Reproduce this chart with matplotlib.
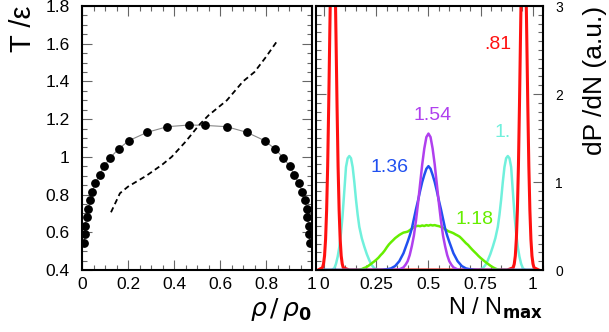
import matplotlib
matplotlib.use('Agg')
import matplotlib.pyplot as plt
from matplotlib.ticker import MultipleLocator

plt.rcParams['font.family'] = ['Liberation Sans', 'DejaVu Sans']
plt.rcParams['mathtext.fontset'] = 'dejavusans'

# left panel: coexistence curve (dots) and dashed line
rho_dots = [0.009, 0.012, 0.014, 0.020, 0.028, 0.035, 0.045, 0.057, 0.077, 0.096, 0.123,
            0.159, 0.204, 0.283, 0.371, 0.467, 0.533, 0.629, 0.717, 0.794, 0.839, 0.875,
            0.903, 0.923, 0.942, 0.958, 0.970, 0.977, 0.980, 0.986, 0.988, 0.991]
T_dots = [0.545, 0.589, 0.633, 0.679, 0.725, 0.770, 0.815, 0.860, 0.905, 0.950, 0.996,
          1.042, 1.086, 1.130, 1.160, 1.169, 1.167, 1.160, 1.130, 1.086, 1.042, 0.996,
          0.950, 0.905, 0.860, 0.815, 0.770, 0.725, 0.679, 0.633, 0.589, 0.545]
rho_dash = [0.126, 0.165, 0.20, 0.28, 0.35, 0.39, 0.45, 0.51, 0.55, 0.63, 0.70, 0.75, 0.80, 0.846]
T_dash = [0.706, 0.807, 0.842, 0.90, 0.96, 1.00, 1.08, 1.17, 1.22, 1.30, 1.40, 1.45, 1.53, 1.61]

# right panel: distributions dP/dN vs N/Nmax
x_red = [-0.03, -0.009, -0.004, 0.001, 0.006, 0.011, 0.016, 0.021, 0.026, 0.031, 0.036, 0.041,
         0.046, 0.051, 0.056, 0.061, 0.066, 0.071, 0.076, 0.081, 0.086, 0.091, 0.12,
         0.5,
         0.878, 0.907, 0.912, 0.917, 0.922, 0.927, 0.932, 0.937, 0.942, 0.947, 0.952, 0.957,
         0.962, 0.967, 0.972, 0.977, 0.982, 0.987, 0.992, 0.997, 1.002, 1.007, 1.03]
y_red = [0.0, 0.026, 0.069, 0.16, 0.35, 0.68, 1.18, 1.87, 2.66, 3.43, 3.99, 4.2,
         3.99, 3.43, 2.66, 1.87, 1.18, 0.68, 0.35, 0.16, 0.069, 0.026, 0.0,
         0.0,
         0.0, 0.026, 0.069, 0.16, 0.35, 0.68, 1.18, 1.87, 2.66, 3.43, 3.99, 4.2,
         3.99, 3.43, 2.66, 1.87, 1.18, 0.68, 0.35, 0.16, 0.069, 0.026, 0.0]

x_cyan = [0.0, 0.035, 0.048, 0.056, 0.064, 0.072, 0.080, 0.087, 0.093, 0.099, 0.104, 0.112, 0.12,
          0.128, 0.136, 0.144, 0.152, 0.160, 0.168, 0.180, 0.192, 0.204, 0.216, 0.228, 0.24, 0.26,
          0.5,
          0.741, 0.761, 0.773, 0.785, 0.797, 0.809, 0.821, 0.833, 0.841, 0.849, 0.857, 0.865, 0.873,
          0.881, 0.889, 0.897, 0.902, 0.908, 0.914, 0.921, 0.929, 0.937, 0.945, 0.953, 0.966, 1.0]
y_cyan = [0.0, 0.0, 0.02, 0.07, 0.15, 0.26, 0.42, 0.60, 0.80, 1.00, 1.17, 1.27, 1.295,
          1.27, 1.17, 1.00, 0.80, 0.63, 0.49, 0.36, 0.265, 0.18, 0.11, 0.055, 0.02, 0.0,
          0.0,
          0.0, 0.02, 0.055, 0.11, 0.18, 0.265, 0.36, 0.49, 0.63, 0.80, 1.00, 1.17, 1.27,
          1.295, 1.27, 1.17, 1.00, 0.80, 0.60, 0.42, 0.26, 0.15, 0.07, 0.02, 0.0, 0.0]

x_purple = [0.0, 0.30, 0.34, 0.36, 0.38, 0.39, 0.40, 0.41, 0.42, 0.43, 0.44, 0.45, 0.46,
            0.47, 0.48, 0.49, 0.50, 0.51, 0.52, 0.53, 0.54, 0.55, 0.56, 0.57, 0.58, 0.59,
            0.60, 0.61, 0.62, 0.64, 0.66, 0.70, 1.0]
y_purple = [0.0, 0.0, 0.001, 0.006, 0.03, 0.06, 0.10, 0.17, 0.27, 0.39, 0.56, 0.76, 0.98,
            1.20, 1.38, 1.51, 1.55, 1.51, 1.38, 1.20, 0.98, 0.76, 0.56, 0.39, 0.27, 0.17,
            0.10, 0.06, 0.03, 0.006, 0.001, 0.0, 0.0]

x_blue = [0.0, 0.26, 0.28, 0.30, 0.32, 0.34, 0.36, 0.38, 0.40, 0.41, 0.42, 0.43, 0.44, 0.45,
          0.46, 0.47, 0.48, 0.49, 0.50, 0.51, 0.52, 0.53, 0.54, 0.55, 0.56, 0.57, 0.58, 0.59,
          0.60, 0.62, 0.64, 0.66, 0.68, 0.70, 0.72, 0.74, 1.0]
y_blue = [0.0, 0.0, 0.002, 0.008, 0.018, 0.045, 0.10, 0.19, 0.32, 0.39, 0.47, 0.58, 0.69,
          0.79, 0.90, 1.00, 1.08, 1.15, 1.18, 1.15, 1.08, 1.00, 0.90, 0.79, 0.69, 0.58,
          0.47, 0.39, 0.32, 0.19, 0.10, 0.045, 0.018, 0.008, 0.002, 0.0, 0.0]

x_green = [0.0, 0.16, 0.17, 0.18, 0.19, 0.20, 0.21, 0.22, 0.23, 0.24, 0.25, 0.26, 0.27, 0.28,
           0.29, 0.30, 0.31, 0.32, 0.33, 0.34, 0.35, 0.36, 0.37, 0.38, 0.39, 0.40, 0.41, 0.42,
           0.43, 0.44, 0.45, 0.46, 0.47, 0.48, 0.49, 0.50, 0.51, 0.52, 0.53, 0.54, 0.55, 0.56,
           0.57, 0.58, 0.59, 0.60, 0.61, 0.62, 0.63, 0.64, 0.65, 0.66, 0.67, 0.68, 0.69, 0.70,
           0.71, 0.72, 0.73, 0.74, 0.75, 0.76, 0.77, 0.78, 0.79, 0.80, 0.81, 0.82, 0.83, 0.84,
           0.85, 1.0]
y_green = [0.0, 0.000, 0.004, 0.010, 0.022, 0.030, 0.045, 0.062, 0.080, 0.098, 0.118, 0.140,
           0.168, 0.192, 0.222, 0.258, 0.290, 0.315, 0.338, 0.362, 0.380, 0.398, 0.412, 0.425,
           0.430, 0.436, 0.452, 0.470, 0.488, 0.498, 0.502, 0.498, 0.506, 0.500, 0.510, 0.504,
           0.512, 0.506, 0.510, 0.503, 0.498, 0.490, 0.478, 0.464, 0.448, 0.436, 0.428, 0.418,
           0.404, 0.392, 0.378, 0.355, 0.330, 0.305, 0.285, 0.258, 0.232, 0.208, 0.185, 0.160,
           0.138, 0.118, 0.098, 0.080, 0.062, 0.045, 0.030, 0.018, 0.008, 0.002, 0.000, 0.0]

# temperature labels of the curves
lbl_text = ['.81', '1.54', '1.36', '1.18', '1.']
lbl_x = [0.832, 0.519, 0.3125, 0.721, 0.856]
lbl_y = [2.56, 1.76, 1.17, 0.57, 1.56]

c_red, c_cyan, c_green, c_blue, c_purple = '#ff1010', '#70f0dc', '#66ee00', '#2050f0', '#b040ee'
lbl_col = [c_red, c_purple, c_blue, c_green, c_cyan]

fig = plt.figure(figsize=(6.09, 3.32), dpi=100)
ax1 = fig.add_axes([82 / 609, 62 / 332, 230 / 609, 264 / 332])
ax2 = fig.add_axes([316 / 609, 62 / 332, 227 / 609, 264 / 332])

ax1.plot(rho_dots, T_dots, color='#888888', lw=0.8, zorder=2)
ax1.plot(rho_dots, T_dots, 'o', color='black', ms=5.3, zorder=3)
ax1.plot(rho_dash, T_dash, color='black', lw=1.3, linestyle=(0, (3, 2)))
ax1.set_xlim(0, 1)
ax1.set_ylim(0.4, 1.8)
ax1.set_xticks([0, 0.2, 0.4, 0.6, 0.8, 1.0], ['0', '0.2', '0.4', '0.6', '0.8', '1'])
ax1.set_yticks([0.4, 0.6, 0.8, 1.0, 1.2, 1.4, 1.6, 1.8],
               ['0.4', '0.6', '0.8', '1', '1.2', '1.4', '1.6', '1.8'])
ax1.xaxis.set_minor_locator(MultipleLocator(0.05))
ax1.yaxis.set_minor_locator(MultipleLocator(0.05))
ax1.set_ylabel('T /ε', fontsize=21, loc='top', labelpad=6)
ax1.set_xlabel(r'$\rho\,/\,\rho_{\mathbf{0}}$', fontsize=18, loc='right', labelpad=3)

ax2.plot(x_cyan, y_cyan, color=c_cyan, lw=1.8)
ax2.plot(x_red, y_red, color=c_red, lw=2.2)
ax2.plot(x_green, y_green, color=c_green, lw=1.8)
ax2.plot(x_blue, y_blue, color=c_blue, lw=1.8)
ax2.plot(x_purple, y_purple, color=c_purple, lw=1.8)
for t, x, y, c in zip(lbl_text, lbl_x, lbl_y, lbl_col):
    ax2.text(x, y, t, color=c, fontsize=14, ha='center', va='center')
ax2.set_xlim(-0.04, 1.05)
ax2.set_ylim(0, 3)
ax2.set_xticks([0, 0.25, 0.5, 0.75, 1.0], ['0', '0.25', '0.5', '0.75', '1'])
ax2.xaxis.set_minor_locator(MultipleLocator(0.05))
ax2.set_yticks([0, 1, 2, 3], ['0', '1', '2', '3'])
ax2.yaxis.set_minor_locator(MultipleLocator(0.1))
ax2.yaxis.tick_right()
ax2.yaxis.set_label_position('right')
ax2.set_ylabel('dP /dN (a.u.)', fontsize=19, loc='top', labelpad=14)
ax2.set_xlabel(r'N / N$_{\mathbf{max}}$', fontsize=17, loc='right', labelpad=3)

for ax in (ax1, ax2):
    for s in ax.spines.values():
        s.set_linewidth(1.5)
    ax.tick_params(which='both', direction='in', top=True, bottom=True, left=True, right=True,
                   color='#666666', width=0.8)
    ax.tick_params(which='major', length=7, labelsize=12.5)
    ax.tick_params(which='minor', length=3.5)
    ax.tick_params(axis='x', which='major', pad=5)
ax1.tick_params(axis='y', which='major', pad=9)
ax2.tick_params(axis='y', which='major', labelsize=10, labelleft=False, labelright=True, pad=9)

fig.savefig('out.png', dpi=100)
